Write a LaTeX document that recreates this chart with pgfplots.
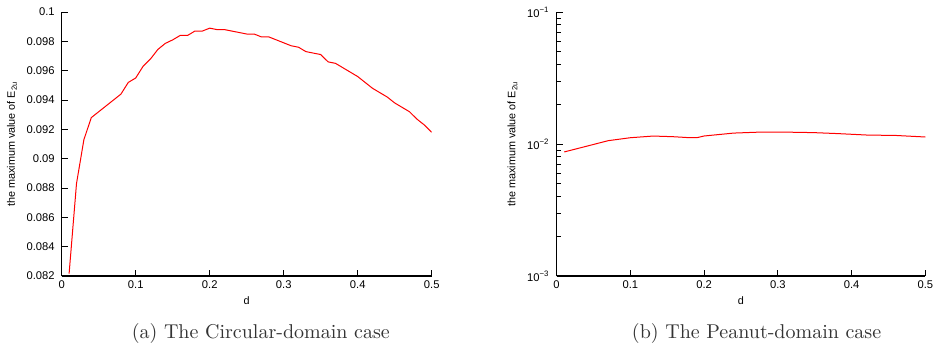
\documentclass[border=0pt]{standalone}
\usepackage{fontspec}
\usepackage{pgfplots}
\pgfplotsset{compat=1.18}
\newfontfamily\hv{Liberation Sans}
\pgfplotsset{
  mstyle/.style={
    scale only axis,
    axis x line*=bottom, axis y line*=left,
    axis line style={-, line width=0.6pt},
    xtick align=inside, ytick align=inside,
    major tick length=3pt, minor tick length=2pt,
    every tick/.style={black, line width=0.5pt},
    xmin=0, xmax=0.5,
    xtick={0,0.1,0.2,0.3,0.4,0.5},
    xticklabels={0,0.1,0.2,0.3,0.4,0.5},
    ticklabel style={font=\hv\fontsize{5.6}{6.5}\selectfont},
    label style={font=\hv\fontsize{5.4}{6.5}\selectfont},
    xlabel={d},
    xlabel style={yshift=3pt},
    xticklabel style={yshift=1pt},
    width=185pt, height=132pt,
  }
}
\begin{document}
\begin{tikzpicture}
\useasboundingbox (0,-174.5pt) rectangle (466.5pt,0);
\begin{axis}[mstyle, at={(30.85pt,-138pt)}, anchor=south west,
  ymin=0.082, ymax=0.1,
  ytick={0.082,0.084,0.086,0.088,0.09,0.092,0.094,0.096,0.098,0.1},
  yticklabels={0.082,0.084,0.086,0.088,0.09,0.092,0.094,0.096,0.098,0.1},
  ylabel={the maximum value of E\textsubscript{2u}},
  ylabel style={yshift=-2pt},
]
\addplot[red, line width=0.5pt] coordinates {
(0.01,0.08216)(0.02,0.0883)(0.03,0.0913)(0.04,0.0928)(0.05,0.0932)(0.06,0.0936)(0.07,0.0940)(0.08,0.0944)(0.09,0.0952)(0.10,0.0955)
(0.11,0.0963)(0.12,0.0968)(0.13,0.09745)(0.14,0.09786)(0.15,0.0981)(0.16,0.0984)(0.17,0.0984)(0.18,0.0987)(0.19,0.0987)(0.20,0.0989)
(0.21,0.0988)(0.22,0.0988)(0.23,0.0987)(0.24,0.0986)(0.25,0.0985)(0.26,0.0985)(0.27,0.0983)(0.28,0.0983)(0.29,0.0981)(0.30,0.0979)
(0.31,0.0977)(0.32,0.0976)(0.33,0.0973)(0.34,0.0972)(0.35,0.0971)(0.36,0.0966)(0.37,0.0965)(0.38,0.0962)(0.39,0.0959)(0.40,0.0956)
(0.41,0.0952)(0.42,0.0948)(0.43,0.0945)(0.44,0.0942)(0.45,0.0938)(0.46,0.0935)(0.47,0.0932)(0.48,0.0927)(0.49,0.0923)(0.50,0.0918)
};
\end{axis}
\begin{axis}[mstyle, at={(278.3pt,-138pt)}, anchor=south west,
  width=184.4pt,
  ymode=log, ymin=1e-3, ymax=1e-1,
  ytick={1e-3,1e-2,1e-1},
  yticklabels={10\textsuperscript{−3},10\textsuperscript{−2},10\textsuperscript{−1}},
  minor ytick={0.002,0.003,0.004,0.005,0.006,0.007,0.008,0.009,0.02,0.03,0.04,0.05,0.06,0.07,0.08,0.09},
  ylabel={the maximum value of E\textsubscript{2u}},
  ylabel style={yshift=-2pt},
]
\addplot[red, line width=0.5pt] coordinates {
(0.0104,0.00871)(0.04,0.00960)(0.07,0.0106)(0.10,0.01116)(0.131,0.01149)(0.158,0.01136)(0.181,0.01116)(0.19,0.01116)(0.20,0.0115)
(0.24,0.0121)(0.276,0.01231)(0.312,0.0123)(0.348,0.0122)(0.38,0.0120)(0.42,0.0117)(0.461,0.0116)(0.5,0.0113)
};
\end{axis}
\node[font=\fontsize{10}{12}\selectfont, color=black!80] at (130.4pt,-166.5pt) {(a) The Circular-domain case};
\node[font=\fontsize{10}{12}\selectfont, color=black!80] at (378.3pt,-166.5pt) {(b) The Peanut-domain case};
\end{tikzpicture}
\end{document}
